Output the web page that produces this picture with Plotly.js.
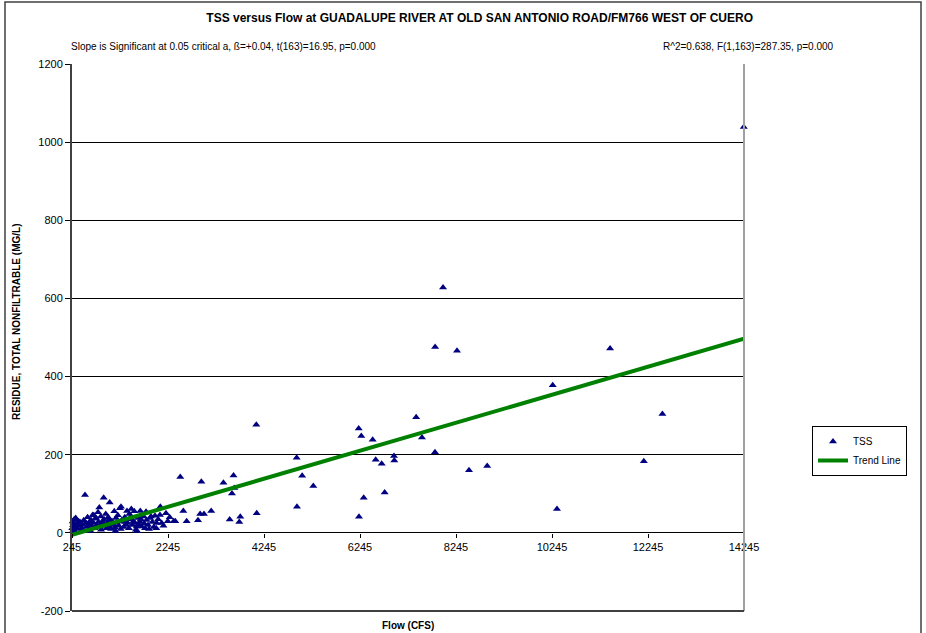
<!DOCTYPE html>
<html>
<head>
<meta charset="utf-8">
<script src="https://cdn.plot.ly/plotly-3.0.1.min.js"></script>
<style>html,body{margin:0;padding:0;background:#fff;}#chart{width:926px;height:633px;}</style>
</head>
<body>
<div id="chart"></div>
<script>
// TSS observations: flow (CFS) and residue (MG/L)
const flowCFS = [
  14240, 7975, 7810, 8266, 11455, 10260, 12545, 7415, 7536, 7807, 8516, 8895, 12158, 10349,
  4085, 4093, 4926, 4932, 5040, 5272, 6218, 6272, 6224, 6322, 6509, 6572, 6697, 6759, 6953, 6960,
  2501, 2940, 3400, 3610, 3626, 3578, 2564, 2634, 2870, 3145, 2995, 2915, 3530, 3751, 3730, 2364, 2397,
  250, 260, 268, 275, 285, 293, 305, 322, 340, 355, 372, 390, 410, 432, 450, 468, 490,
  516, 537, 552, 570, 588, 605, 620, 641, 660, 676, 690, 712, 728, 745, 760, 787, 795,
  814, 830, 845, 862, 884, 905, 912, 930, 948, 965, 980, 1000, 1022, 1030, 1045, 1060, 1080,
  1110, 1126, 1140, 1162, 1180, 1200, 1220, 1245, 1266, 1280, 1301, 1320, 1345, 1370, 1391, 1405,
  1430, 1455, 1474, 1481, 1500, 1525, 1543, 1557, 1575, 1593, 1620, 1640, 1661, 1668, 1697, 1715, 1731, 1750, 1766, 1787,
  1800, 1830, 1870, 1891, 1920, 1950, 1974, 2009, 2040, 2078, 2085, 2113, 2150, 2203, 2240, 2280,
  300, 380, 460, 630, 700, 850, 1010, 1150, 1260, 1350, 1440, 1600, 1680, 1850, 2000
];
const tssMGL = [
  1039, 628, 476, 466, 472, 378, 304, 296, 244, 206, 160, 171, 183, 61,
  277, 50, 192, 67, 146, 120, 267, 248, 41, 90, 238, 187, 177, 103, 197, 185,
  143, 131, 128, 147, 115, 101, 56, 30, 32, 56, 48, 48, 34, 41, 28, 30, 30,
  12, 29, 20, 8, 16, 35, 22, 38, 14, 25, 10, 18, 28, 25, 12, 20, 32,
  97, 25, 15, 40, 22, 10, 30, 33, 18, 46, 26, 12, 36, 38, 20, 53, 28,
  65, 15, 42, 24, 29, 90, 35, 18, 48, 12, 26, 40, 33, 78, 20, 10, 30,
  22, 55, 14, 38, 26, 45, 18, 63, 67, 32, 29, 15, 40, 20, 56, 25,
  12, 35, 42, 61, 20, 30, 55, 25, 8, 16, 38, 22, 29, 56, 16, 45, 42, 24, 12, 54,
  33, 20, 38, 42, 28, 15, 44, 25, 35, 46, 67, 25, 18, 50, 30, 40,
  5, 30, 8, 5, 45, 8, 15, 5, 10, 28, 48, 5, 35, 10, 12
];
// Trend line end points
const trendX = [245, 14245];
const trendY = [-5, 497];
// Axis ticks
const xTicks = [245, 2245, 4245, 6245, 8245, 10245, 12245, 14245];
const yTicks = [-200, 0, 200, 400, 600, 800, 1000, 1200];
const yTickText = ['-200', '0', '200', '400', '600', '800', '1000', '1200'];

const FONT = '"Liberation Sans", Arial, sans-serif';

const traces = [
  {
    x: flowCFS, y: tssMGL, type: 'scatter', mode: 'markers', name: 'TSS',
    marker: {symbol: 'triangle-up', size: 7, color: '#000080', line: {width: 0}},
    cliponaxis: false
  },
  {
    x: trendX, y: trendY, type: 'scatter', mode: 'lines', name: 'Trend Line',
    line: {color: '#008000', width: 4}
  }
];

const layout = {
  width: 926, height: 633,
  margin: {l: 72, r: 182, t: 64, b: 22},
  paper_bgcolor: '#ffffff', plot_bgcolor: '#ffffff',
  font: {family: FONT, size: 11, color: '#000'},
  showlegend: true,
  title: {
    text: '<b>TSS versus Flow at GUADALUPE RIVER AT OLD SAN ANTONIO ROAD/FM766 WEST OF CUERO</b>',
    font: {family: FONT, size: 12, color: '#000'},
    xref: 'container', yref: 'container', x: 0.518, xanchor: 'center', y: 1 - 18/633, yanchor: 'middle'
  },
  xaxis: {
    range: [245, 14245], tickvals: xTicks, ticktext: xTicks.map(String),
    anchor: 'free', position: 200/1400,
    showgrid: false, zeroline: false, showline: false,
    ticks: 'outside', ticklen: 4, tickcolor: '#000', tickwidth: 1,
    tickfont: {family: FONT, size: 11, color: '#000'}
  },
  yaxis: {
    range: [-200, 1200], tickvals: yTicks, ticktext: yTickText,
    showgrid: true, gridcolor: '#000', gridwidth: 1, zeroline: false,
    showline: true, linecolor: '#404040', linewidth: 2,
    ticks: 'outside', ticklen: 5, tickcolor: '#000',
    tickfont: {family: FONT, size: 11, color: '#000'}
  },
  legend: {
    x: (812-72)/672, y: (611-426)/547, xanchor: 'left', yanchor: 'top',
    bgcolor: '#fff', bordercolor: '#000', borderwidth: 1,
    font: {family: FONT, size: 10, color: '#000'},
    tracegroupgap: 0, itemwidth: 30
  },
  annotations: [
    {text: 'Slope is Significant at 0.05 critical a, ß=+0.04, t(163)=16.95, p=0.000',
     xref: 'paper', yref: 'paper', x: (69-72)/672, y: (611-47)/547, xanchor: 'left', yanchor: 'middle',
     showarrow: false, font: {family: FONT, size: 10, color: '#000'}},
    {text: 'R^2=0.638, F(1,163)=287.35, p=0.000',
     xref: 'paper', yref: 'paper', x: (836-72)/672, y: (611-47)/547, xanchor: 'right', yanchor: 'middle',
     showarrow: false, font: {family: FONT, size: 10, color: '#000'}},
    {text: '<b>RESIDUE, TOTAL NONFILTRABLE (MG/L)</b>',
     xref: 'paper', yref: 'paper', x: (16-72)/672, y: (611-322)/547, xanchor: 'center', yanchor: 'middle',
     textangle: -90, showarrow: false, font: {family: FONT, size: 10, color: '#000'}},
    {text: '<b>Flow (CFS)</b>',
     xref: 'paper', yref: 'paper', x: (408-72)/672, y: (611-625)/547, xanchor: 'center', yanchor: 'middle',
     showarrow: false, font: {family: FONT, size: 10, color: '#000'}}
  ],
  shapes: [
    // outer frame
    {type: 'rect', xref: 'paper', yref: 'paper', x0: (5-72)/672, x1: (921-72)/672, y0: (611-645)/547, y1: (611-2)/547,
     line: {color: '#404040', width: 1.5}, layer: 'below'},
    // right border of plot area
    {type: 'line', xref: 'paper', yref: 'paper', x0: 1, x1: 1, y0: 0, y1: 1, line: {color: '#a0a0a0', width: 2}},
    // bottom border of plot area
    {type: 'line', xref: 'paper', yref: 'paper', x0: 0, x1: 1, y0: 0, y1: 0, line: {color: '#404040', width: 2}}
  ]
};

Plotly.newPlot('chart', traces, layout, {displayModeBar: false, staticPlot: true});
</script>
</body>
</html>
